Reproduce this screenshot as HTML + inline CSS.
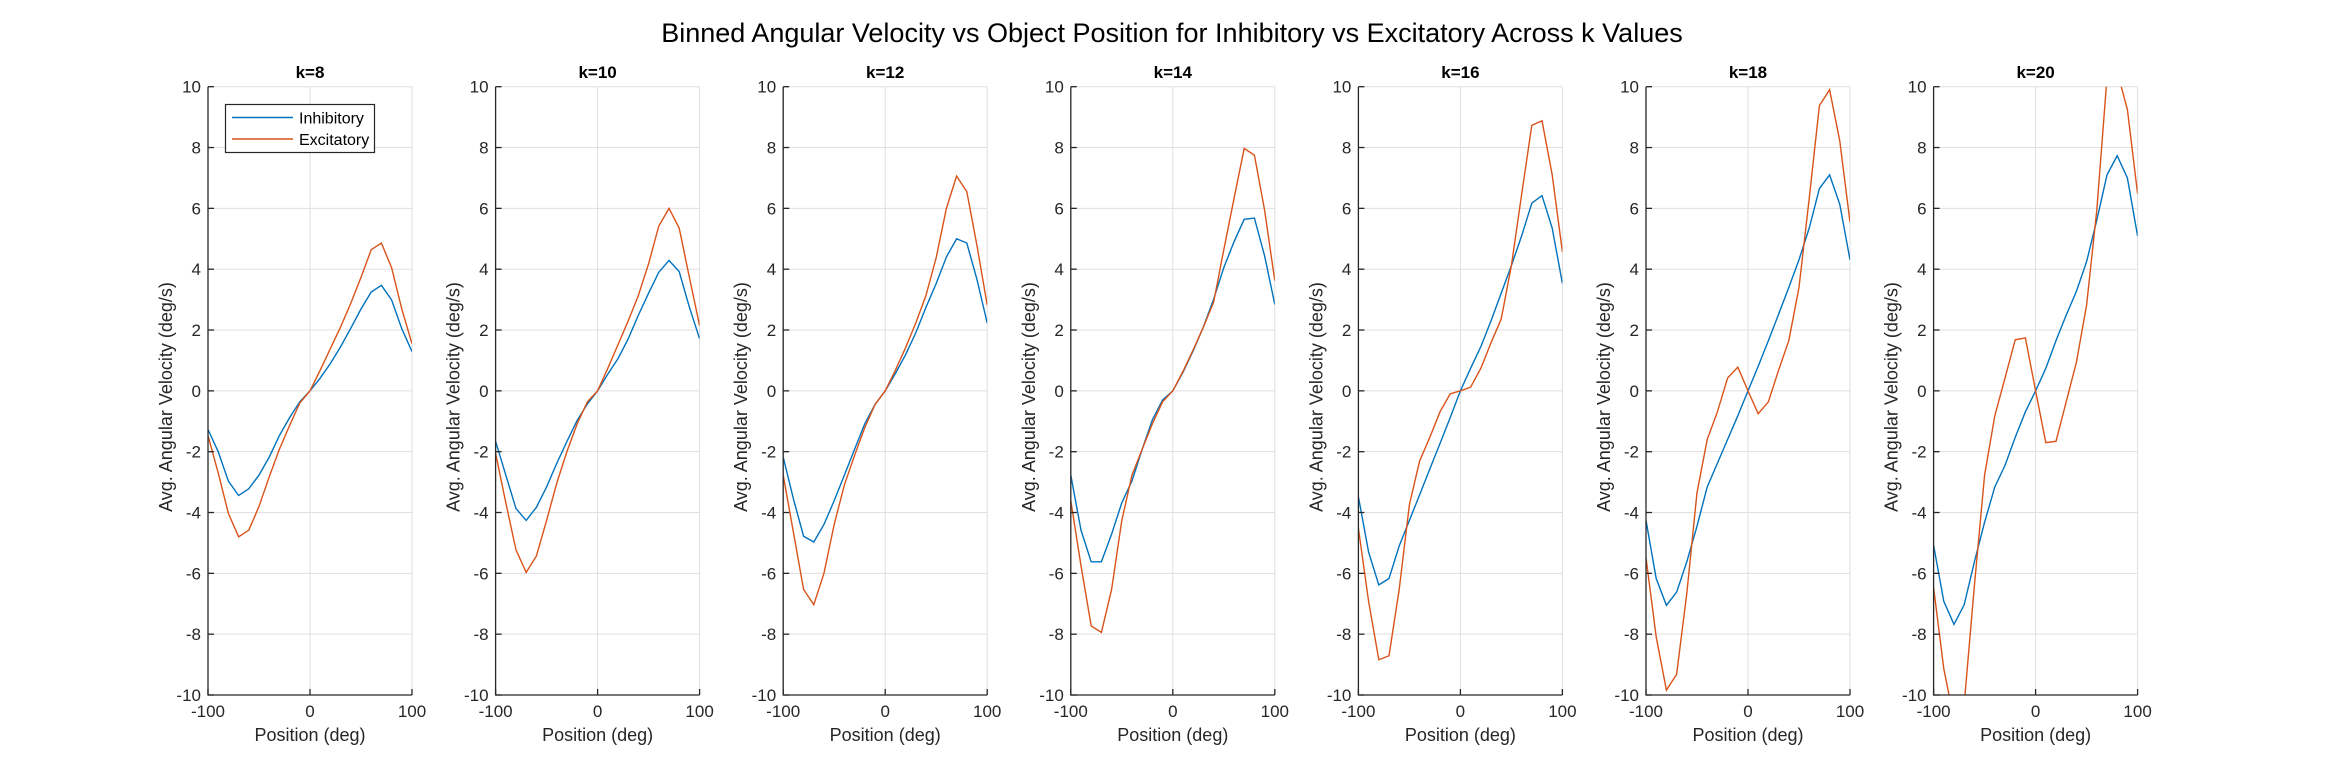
<!DOCTYPE html>
<html><head><meta charset="utf-8"><style>
html,body{margin:0;padding:0;background:#fff;}
svg{display:block;font-family:"Liberation Sans",Arial,sans-serif;}
</style></head><body>
<svg id="fig" width="2344" height="781" viewBox="0 0 2344 781" xmlns="http://www.w3.org/2000/svg">
<rect width="2344" height="781" fill="#fff"/>
<text x="1172" y="42" text-anchor="middle" font-size="27" fill="#000">Binned Angular Velocity vs Object Position for Inhibitory vs Excitatory Across k Values</text>
</svg>
<script>
const kValues = [8, 10, 12, 14, 16, 18, 20];
const positions = [-100,-90,-80,-70,-60,-50,-40,-30,-20,-10,0,10,20,30,40,50,60,70,80,90,100];
const inhibitory = [
[-1.27,-2.0,-2.97,-3.44,-3.22,-2.77,-2.18,-1.47,-0.88,-0.36,0,0.42,0.9,1.45,2.06,2.69,3.25,3.47,2.99,2.04,1.29],
[-1.66,-2.77,-3.87,-4.26,-3.83,-3.16,-2.38,-1.66,-0.97,-0.43,0,0.55,1.06,1.71,2.49,3.21,3.9,4.29,3.92,2.75,1.71],
[-2.18,-3.55,-4.78,-4.97,-4.39,-3.61,-2.77,-1.92,-1.08,-0.45,0,0.57,1.19,1.91,2.75,3.53,4.4,5.0,4.86,3.66,2.23],
[-2.77,-4.58,-5.62,-5.62,-4.71,-3.68,-2.96,-1.92,-0.95,-0.3,0,0.61,1.32,2.1,3.01,4.05,4.9,5.64,5.68,4.44,2.84],
[-3.48,-5.3,-6.38,-6.17,-5.1,-4.26,-3.42,-2.57,-1.73,-0.88,0,0.74,1.45,2.3,3.21,4.12,5.09,6.17,6.42,5.35,3.53],
[-4.26,-6.17,-7.05,-6.62,-5.62,-4.45,-3.16,-2.38,-1.6,-0.82,0,0.81,1.65,2.52,3.4,4.31,5.35,6.65,7.1,6.13,4.31],
[-5.08,-6.92,-7.68,-7.03,-5.62,-4.32,-3.16,-2.45,-1.53,-0.69,0,0.74,1.65,2.49,3.27,4.25,5.61,7.1,7.73,7.0,5.09]
];
const excitatory = [
[-1.47,-2.7,-4.03,-4.8,-4.58,-3.8,-2.83,-1.92,-1.14,-0.4,0,0.68,1.39,2.1,2.88,3.73,4.64,4.86,4.05,2.69,1.55],
[-2.05,-3.68,-5.23,-5.97,-5.43,-4.26,-3.03,-1.99,-1.08,-0.36,0,0.74,1.52,2.3,3.14,4.18,5.42,6.0,5.35,3.73,2.14],
[-2.77,-4.65,-6.53,-7.03,-5.99,-4.39,-3.09,-2.12,-1.21,-0.45,0,0.68,1.42,2.23,3.14,4.38,6.0,7.06,6.55,4.77,2.82],
[-3.61,-5.75,-7.73,-7.94,-6.53,-4.26,-2.77,-1.92,-1.08,-0.36,0,0.64,1.35,2.1,2.91,4.64,6.32,7.97,7.75,5.94,3.62],
[-4.52,-6.92,-8.84,-8.71,-6.53,-3.74,-2.31,-1.53,-0.69,-0.1,0,0.12,0.74,1.58,2.36,4.12,6.45,8.73,8.88,7.1,4.57],
[-5.49,-8.09,-9.84,-9.32,-6.66,-3.35,-1.6,-0.69,0.42,0.78,0,-0.75,-0.36,0.68,1.65,3.4,6.32,9.38,9.9,8.21,5.55],
[-6.47,-9.14,-10.8,-10.3,-6.4,-2.77,-0.82,0.42,1.68,1.74,0,-1.7,-1.66,-0.36,0.94,2.82,5.94,10.3,10.5,9.25,6.48]
];
const yTicks = [-10,-8,-6,-4,-2,0,2,4,6,8,10];
const xTicks = [-100,0,100];

const NS = "http://www.w3.org/2000/svg";
const svg = document.getElementById('fig');
function mk(tag, attrs, parent){
  const e = document.createElementNS(NS, tag);
  for (const k in attrs) e.setAttribute(k, attrs[k]);
  (parent||svg).appendChild(e);
  return e;
}
const TOP = 86.7, BOT = 695, W = 204;
const defs = mk('defs', {});
kValues.forEach((k, i) => {
  const L = 208 + i * 287.6, R = L + W;
  const xs = v => L + (v + 100) / 200 * W;
  const ys = v => BOT - (v + 10) / 20 * (BOT - TOP);
  const g = mk('g', {});
  
  
  yTicks.forEach(t => {
    const ln = mk('line', {x1: L, x2: R, y1: ys(t), y2: ys(t), stroke: '#dfdfdf', 'stroke-width': 1}, g);
    
    
  });
  xTicks.forEach(t => {
    const ln = mk('line', {x1: xs(t), x2: xs(t), y1: TOP, y2: BOT, stroke: '#dfdfdf', 'stroke-width': 1}, g);
    
    
  });
  const cp = mk('clipPath', {id: 'cp' + i}, defs);
  mk('rect', {x: L, y: TOP, width: W, height: BOT - TOP}, cp);
  [[inhibitory[i], '#0072BD', 'inhibitory-line'], [excitatory[i], '#D95319', 'excitatory-line']].forEach(([vals, col, nm]) => {
    const d = vals.map((v, j) => (j ? 'L' : 'M') + xs(positions[j]).toFixed(2) + ',' + ys(v).toFixed(2)).join(' ');
    const p = mk('path', {d: d, fill: 'none', stroke: col, 'stroke-width': 1.4, 'clip-path': 'url(#cp' + i + ')'}, g);
    
    
  });
  const ax = mk('path', {d: `M${L},${TOP} L${L},${BOT} L${R},${BOT}`, fill: 'none', stroke: '#262626', 'stroke-width': 1.3}, g);
  
  
  yTicks.forEach(t => {
    mk('line', {x1: L, x2: L + 6, y1: ys(t), y2: ys(t), stroke: '#262626', 'stroke-width': 1.3}, g);
    const tx = mk('text', {x: L - 7, y: ys(t) + 6, 'text-anchor': 'end', 'font-size': 17, fill: '#262626'}, g);
    tx.textContent = t;
    
    
  });
  xTicks.forEach(t => {
    mk('line', {x1: xs(t), x2: xs(t), y1: BOT, y2: BOT - 6, stroke: '#262626', 'stroke-width': 1.3}, g);
    const tx = mk('text', {x: xs(t), y: 717, 'text-anchor': 'middle', 'font-size': 17, fill: '#262626'}, g);
    tx.textContent = t;
    
    
  });
  const title = mk('text', {x: (L + R) / 2, y: 78, 'text-anchor': 'middle', 'font-size': 17, 'font-weight': 'bold', fill: '#000'}, g);
  title.textContent = 'k=' + k;
  
  
  const xl = mk('text', {x: (L + R) / 2, y: 741, 'text-anchor': 'middle', 'font-size': 18, fill: '#262626'}, g);
  xl.textContent = 'Position (deg)';
  
  
  const yl = mk('text', {x: 0, y: 0, 'text-anchor': 'middle', 'font-size': 18, fill: '#262626', transform: `translate(${L - 36},397) rotate(-90)`}, g);
  yl.textContent = 'Avg. Angular Velocity (deg/s)';
  
  
});
const lg = mk('g', {});


mk('rect', {x: 225.5, y: 104.5, width: 149, height: 48, fill: '#fff', stroke: '#262626', 'stroke-width': 1.2}, lg);
mk('line', {x1: 232, x2: 293, y1: 117.5, y2: 117.5, stroke: '#0072BD', 'stroke-width': 1.4}, lg);
mk('line', {x1: 232, x2: 293, y1: 139, y2: 139, stroke: '#D95319', 'stroke-width': 1.4}, lg);
const l1 = mk('text', {x: 299, y: 123.5, 'font-size': 16, fill: '#000'}, lg);
l1.textContent = 'Inhibitory';


const l2 = mk('text', {x: 299, y: 145, 'font-size': 16, fill: '#000'}, lg);
l2.textContent = 'Excitatory';


</script>
</body></html>
